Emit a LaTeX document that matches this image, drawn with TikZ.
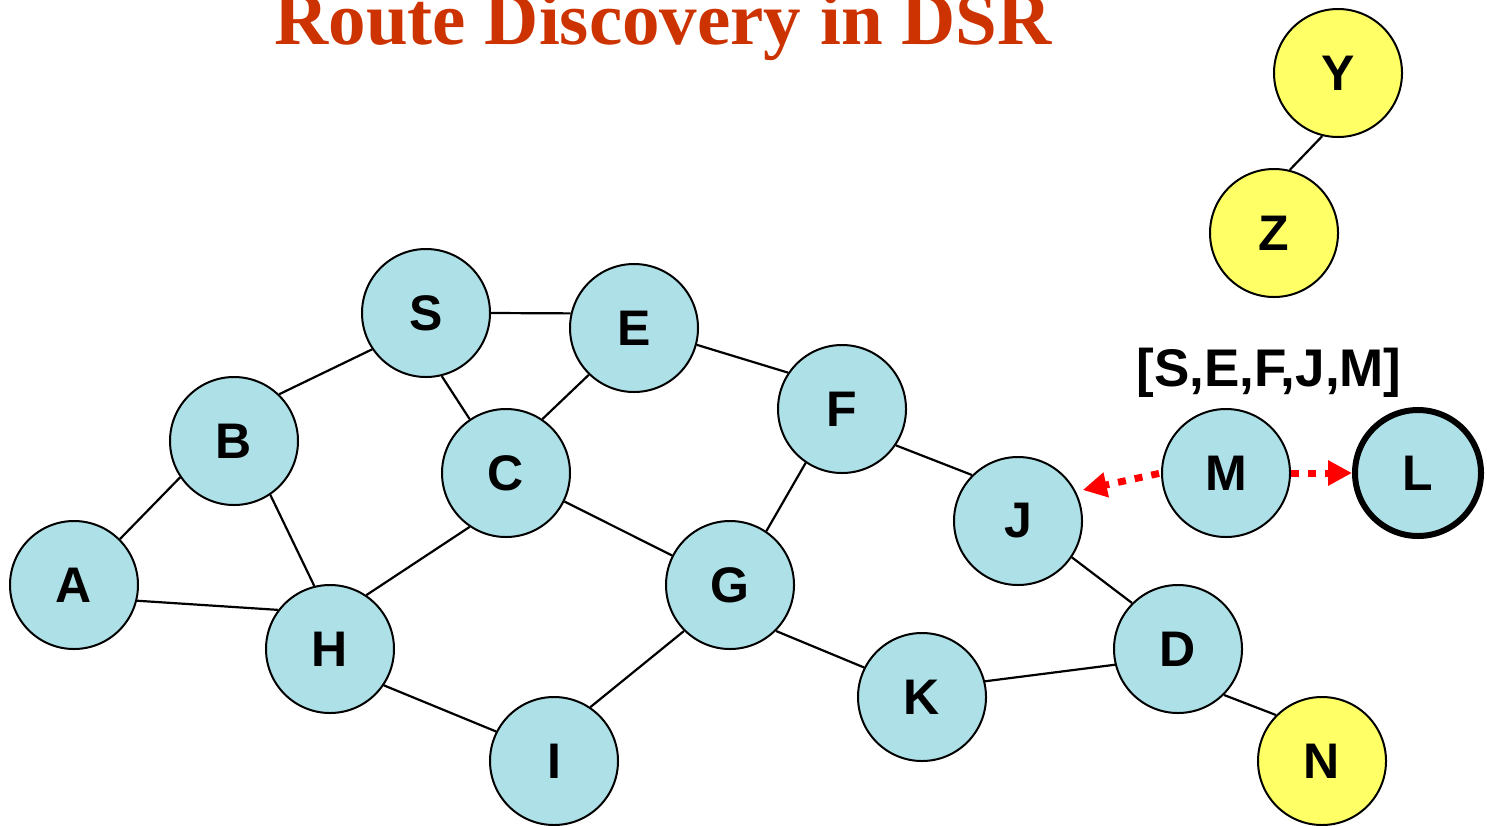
\documentclass[tikz,border=0pt]{standalone}
\usepackage{fontspec}
\setmainfont{Liberation Serif}
\setsansfont{Liberation Sans}
\usetikzlibrary{arrows.meta}

\definecolor{nodecyan}{RGB}{174,224,231}
\definecolor{nodeyellow}{RGB}{255,255,102}
\definecolor{titlered}{RGB}{204,51,0}
\definecolor{pathred}{RGB}{255,0,0}

\tikzset{
  host/.style={circle, draw=black, line width=2pt, fill=nodecyan,
    minimum size=128pt, inner sep=0pt,
    font=\sffamily\bfseries\fontsize{50}{50}\selectfont},
  idle/.style={host, fill=nodeyellow},
  target/.style={host, line width=6pt, minimum size=126pt},
  link/.style={line width=2.2pt, black},
  rreq/.style={pathred, line width=7pt, dash pattern=on 8pt off 9pt,
    -{Triangle[length=24pt,width=24pt]}}
}

\begin{document}
\begin{tikzpicture}[x=1pt, y=-1pt]
  \useasboundingbox (0,0) rectangle (1487,825);

  % title, running off the top edge
  \node[anchor=base, text=titlered, inner sep=0pt,
        font=\bfseries\fontsize{75}{75}\selectfont] (title) at (663,44)
        {Route Discovery in DSR};

  % hosts
  \node[host] (S) at (426,313) {S};
  \node[host] (E) at (634,328) {E};
  \node[host] (B) at (234,441) {B};
  \node[host] (C) at (506,473) {C};
  \node[host] (F) at (842,409) {F};
  \node[host] (A) at (74,585) {A};
  \node[host] (H) at (330,649) {H};
  \node[host] (G) at (730,585) {G};
  \node[host] (J) at (1018,521) {J};
  \node[host] (M) at (1226,473) {M};
  \node[target] (L) at (1418,473) {L};
  \node[host] (D) at (1178,649) {D};
  \node[host] (K) at (922,697) {K};
  \node[host] (I) at (554,761) {I};
  \node[idle] (N) at (1322,761) {N};
  \node[idle] (Y) at (1338,73) {Y};
  \node[idle] (Z) at (1274,233) {Z};

  % accumulated route record
  \node[font=\sffamily\bfseries\fontsize{53}{53}\selectfont, inner sep=0pt]
        (rec) at (1269,373) {[S,E,F,J,M]};

  % links
  \draw[link] (S.0)   -- (E.167);
  \draw[link] (S.214) -- (B.46);
  \draw[link] (S.-76) -- (C.124);
  \draw[link] (E.226) -- (C.56);
  \draw[link] (E.-15) -- (F.146);
  \draw[link] (B.214) -- (A.45);
  \draw[link] (B.-56) -- (H.104);
  \draw[link] (A.-14) -- (H.143);
  \draw[link] (C.236) -- (H.56);
  \draw[link] (C.-26) -- (G.153);
  \draw[link] (F.236) -- (G.56);
  \draw[link] (F.-34) -- (J.135);
  \draw[link] (G.225) -- (I.56);
  \draw[link] (G.-45) -- (K.153);
  \draw[link] (H.-34) -- (I.153);
  \draw[link] (K.14)  -- (D.194);
  \draw[link] (J.-34) -- (D.135);
  \draw[link] (D.-45) -- (N.135);
  \draw[link] (Y.256) -- (Z.76);

  % route request forwarded by M
  \draw[rreq, shorten <=2pt, shorten >=7pt] (M.180) -- (J.27);
  \draw[rreq] (M.0) -- (L.180);
\end{tikzpicture}
\end{document}
